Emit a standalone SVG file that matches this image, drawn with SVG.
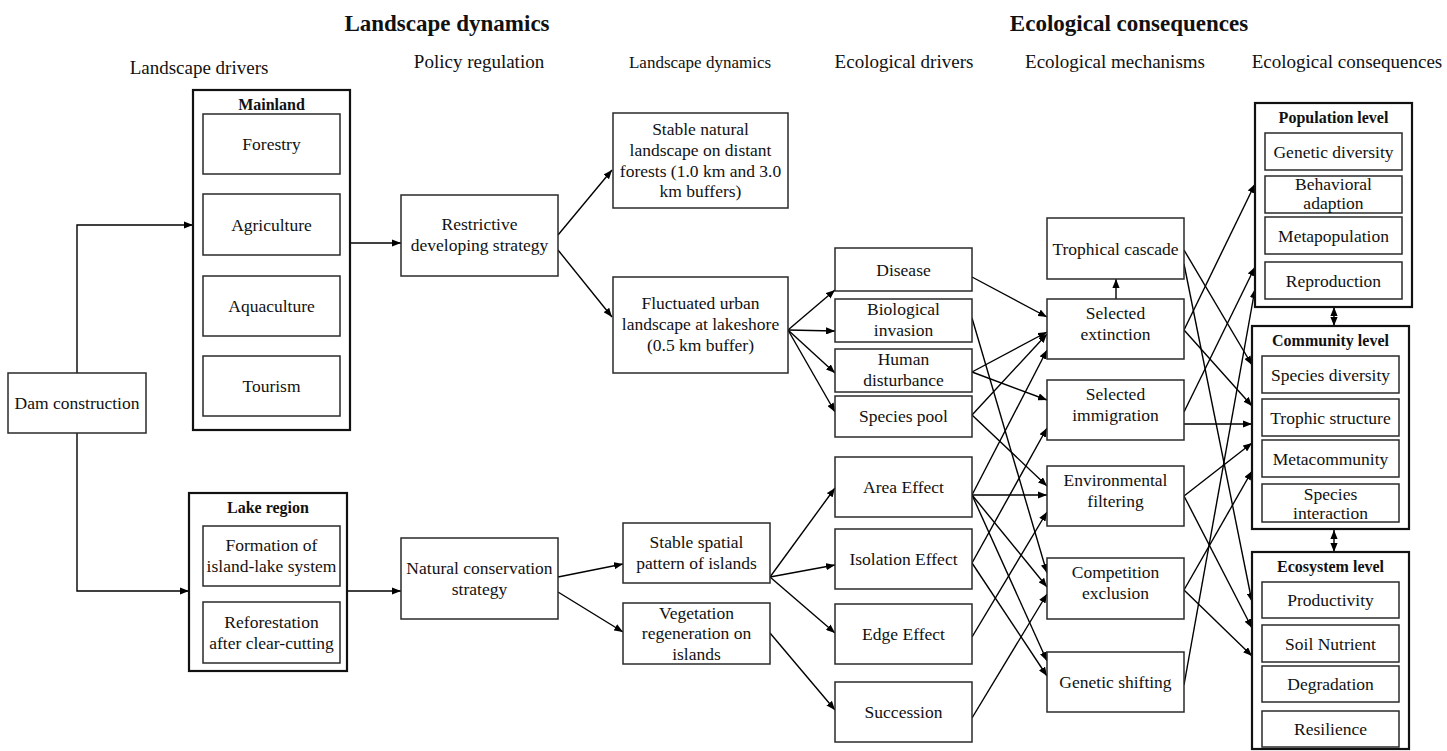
<svg xmlns="http://www.w3.org/2000/svg" width="1447" height="751" viewBox="0 0 1447 751">
<style>
text{font-family:"Liberation Serif","Times New Roman",serif;fill:#111;text-anchor:middle}
.t{font-size:17.5px}
.h{font-size:19px}
.h2{font-size:17px}
.title{font-size:23px;font-weight:bold}
.lbl{font-size:16px;font-weight:bold}
.box{fill:#fff;stroke:#2a2a2a;stroke-width:1.5}
.outer{fill:#fff;stroke:#111;stroke-width:2.2}
.c{fill:none;stroke:#000;stroke-width:1.4;marker-end:url(#arr)}
.d{fill:none;stroke:#000;stroke-width:1.4;marker-end:url(#arr);marker-start:url(#arr)}
</style>
<defs>
<marker id="arr" viewBox="0 0 10 8" markerWidth="9" markerHeight="7.2" refX="10" refY="4" orient="auto-start-reverse" markerUnits="userSpaceOnUse">
<path d="M0,0 L10,4 L0,8 z" fill="#000"/>
</marker>
</defs>
<rect width="1447" height="751" fill="#fff"/>

<g id="titles">
<text class="title" x="447" y="31">Landscape dynamics</text>
<text class="title" x="1129" y="31">Ecological consequences</text>
<text class="h" x="199" y="74">Landscape drivers</text>
<text class="h" x="479" y="68">Policy regulation</text>
<text class="h2" x="700" y="68">Landscape dynamics</text>
<text class="h" x="904" y="68">Ecological drivers</text>
<text class="h" x="1115" y="68">Ecological mechanisms</text>
<text class="h" x="1347" y="68">Ecological consequences</text>
</g>

<g id="connectors">
<polyline class="c" points="77,373 77,225 193,225"/>
<polyline class="c" points="77,433 77,591 189,591"/>
<line class="c" x1="350" y1="243" x2="401" y2="243"/>
<line class="c" x1="347" y1="591" x2="401" y2="591"/>
<line class="c" x1="558" y1="235" x2="612" y2="170"/>
<line class="c" x1="558" y1="250" x2="612" y2="317"/>
<line class="c" x1="558" y1="577" x2="623" y2="564"/>
<line class="c" x1="558" y1="592" x2="623" y2="632"/>
<line class="c" x1="788" y1="330" x2="835" y2="290"/>
<line class="c" x1="788" y1="330" x2="835" y2="331"/>
<line class="c" x1="788" y1="330" x2="835" y2="373"/>
<line class="c" x1="788" y1="330" x2="835" y2="412"/>
<line class="c" x1="770" y1="577" x2="835" y2="488"/>
<line class="c" x1="770" y1="577" x2="835" y2="565"/>
<line class="c" x1="770" y1="577" x2="835" y2="633"/>
<line class="c" x1="770" y1="633" x2="835" y2="710"/>
<line class="c" x1="972" y1="277" x2="1047" y2="317"/>
<line class="c" x1="972" y1="318" x2="1047" y2="573"/>
<line class="c" x1="972" y1="372" x2="1047" y2="332"/>
<line class="c" x1="972" y1="372" x2="1047" y2="400"/>
<line class="c" x1="972" y1="415" x2="1047" y2="334"/>
<line class="c" x1="972" y1="415" x2="1047" y2="486"/>
<line class="c" x1="972" y1="495" x2="1047" y2="350"/>
<line class="c" x1="972" y1="495" x2="1047" y2="495"/>
<line class="c" x1="972" y1="495" x2="1047" y2="587"/>
<line class="c" x1="972" y1="495" x2="1047" y2="661"/>
<line class="c" x1="972" y1="563" x2="1047" y2="428"/>
<line class="c" x1="972" y1="563" x2="1047" y2="676"/>
<line class="c" x1="972" y1="637" x2="1047" y2="512"/>
<line class="c" x1="972" y1="718" x2="1047" y2="594"/>
<line class="c" x1="1116" y1="299" x2="1116" y2="279"/>
<line class="c" x1="1184" y1="250" x2="1252" y2="365"/>
<line class="c" x1="1184" y1="264" x2="1252" y2="602"/>
<line class="c" x1="1184" y1="330" x2="1255" y2="184"/>
<line class="c" x1="1184" y1="330" x2="1252" y2="406"/>
<line class="c" x1="1184" y1="412" x2="1255" y2="267"/>
<line class="c" x1="1184" y1="424" x2="1252" y2="424"/>
<line class="c" x1="1184" y1="496" x2="1252" y2="443"/>
<line class="c" x1="1184" y1="496" x2="1252" y2="628"/>
<line class="c" x1="1184" y1="590" x2="1252" y2="471"/>
<line class="c" x1="1184" y1="590" x2="1252" y2="656"/>
<line class="c" x1="1184" y1="685" x2="1255" y2="289"/>
<line class="d" x1="1334" y1="307" x2="1334" y2="326"/>
<line class="d" x1="1334" y1="530" x2="1334" y2="552"/>
</g>

<g id="dam"><rect class="box" x="8" y="373" width="138" height="60"/><text class="t" x="77" y="409">Dam construction</text></g>

<g id="mainland">
<rect class="outer" x="193" y="90" width="157" height="340"/>
<text class="lbl" x="271.5" y="110">Mainland</text>
<g id="forestry"><rect class="box" x="203" y="114" width="137" height="60"/><text class="t" x="271.5" y="150">Forestry</text></g>
<g id="agriculture"><rect class="box" x="203" y="194" width="137" height="61"/><text class="t" x="271.5" y="230.5">Agriculture</text></g>
<g id="aquaculture"><rect class="box" x="203" y="276" width="137" height="60"/><text class="t" x="271.5" y="312">Aquaculture</text></g>
<g id="tourism"><rect class="box" x="203" y="356" width="137" height="60"/><text class="t" x="271.5" y="392">Tourism</text></g>
</g>

<g id="lake">
<rect class="outer" x="189" y="493" width="158" height="178"/>
<text class="lbl" x="268" y="513">Lake region</text>
<g id="formation"><rect class="box" x="203" y="526" width="137" height="60"/><text class="t" x="271.5" y="551">Formation of</text><text class="t" x="271.5" y="572">island-lake system</text></g>
<g id="reforestation"><rect class="box" x="203" y="602" width="137" height="61"/><text class="t" x="271.5" y="627.5">Reforestation</text><text class="t" x="271.5" y="648.5">after clear-cutting</text></g>
</g>

<g id="restrictive"><rect class="box" x="401" y="195" width="157" height="81"/><text class="t" x="479.5" y="230">Restrictive</text><text class="t" x="479.5" y="251">developing strategy</text></g>
<g id="natural"><rect class="box" x="401" y="538" width="157" height="81"/><text class="t" x="479.5" y="574">Natural conservation</text><text class="t" x="479.5" y="595">strategy</text></g>

<g id="stable-natural"><rect class="box" x="613" y="113" width="175" height="95"/>
<text class="t" x="700.5" y="135">Stable natural</text><text class="t" x="700.5" y="156">landscape on distant</text><text class="t" x="700.5" y="176.5">forests (1.0 km and 3.0</text><text class="t" x="700.5" y="197">km buffers)</text></g>
<g id="fluctuated"><rect class="box" x="613" y="277" width="175" height="96"/>
<text class="t" x="700.5" y="309">Fluctuated urban</text><text class="t" x="700.5" y="330">landscape at lakeshore</text><text class="t" x="700.5" y="350.5">(0.5 km buffer)</text></g>
<g id="stable-spatial"><rect class="box" x="623" y="523" width="147" height="60"/>
<text class="t" x="696.5" y="548">Stable spatial</text><text class="t" x="696.5" y="568.5">pattern of islands</text></g>
<g id="vegetation"><rect class="box" x="623" y="603" width="147" height="61"/>
<text class="t" x="696.5" y="618.5">Vegetation</text><text class="t" x="696.5" y="639">regeneration on</text><text class="t" x="696.5" y="659.5">islands</text></g>

<g id="disease"><rect class="box" x="835" y="248" width="137" height="43"/><text class="t" x="903.5" y="275.5">Disease</text></g>
<g id="bio"><rect class="box" x="835" y="299" width="137" height="43"/><text class="t" x="903.5" y="315">Biological</text><text class="t" x="903.5" y="336">invasion</text></g>
<g id="human"><rect class="box" x="835" y="349" width="137" height="43"/><text class="t" x="903.5" y="365">Human</text><text class="t" x="903.5" y="386">disturbance</text></g>
<g id="pool"><rect class="box" x="835" y="396" width="137" height="41"/><text class="t" x="903.5" y="422">Species pool</text></g>
<g id="area"><rect class="box" x="835" y="457" width="137" height="60"/><text class="t" x="903.5" y="493">Area Effect</text></g>
<g id="isolation"><rect class="box" x="835" y="529" width="137" height="60"/><text class="t" x="903.5" y="565">Isolation Effect</text></g>
<g id="edge"><rect class="box" x="835" y="604" width="137" height="60"/><text class="t" x="903.5" y="640">Edge Effect</text></g>
<g id="succession"><rect class="box" x="835" y="682" width="137" height="60"/><text class="t" x="903.5" y="718">Succession</text></g>

<g id="trophical"><rect class="box" x="1047" y="218" width="137" height="61"/><text class="t" x="1115.5" y="254.5">Trophical cascade</text></g>
<g id="extinction"><rect class="box" x="1047" y="299" width="137" height="60"/><text class="t" x="1115.5" y="318.5">Selected</text><text class="t" x="1115.5" y="339.5">extinction</text></g>
<g id="immigration"><rect class="box" x="1047" y="380" width="137" height="60"/><text class="t" x="1115.5" y="399.5">Selected</text><text class="t" x="1115.5" y="420.5">immigration</text></g>
<g id="filtering"><rect class="box" x="1047" y="466" width="137" height="60"/><text class="t" x="1115.5" y="485.5">Environmental</text><text class="t" x="1115.5" y="506.5">filtering</text></g>
<g id="competition"><rect class="box" x="1047" y="558" width="137" height="61"/><text class="t" x="1115.5" y="578">Competition</text><text class="t" x="1115.5" y="599">exclusion</text></g>
<g id="genetic-shifting"><rect class="box" x="1047" y="652" width="137" height="60"/><text class="t" x="1115.5" y="688">Genetic shifting</text></g>

<g id="population">
<rect class="outer" x="1255" y="103" width="157" height="204"/>
<text class="lbl" x="1333.5" y="123">Population level</text>
<g id="gen-div"><rect class="box" x="1265" y="133" width="137" height="37"/><text class="t" x="1333.5" y="157.5">Genetic diversity</text></g>
<g id="behav"><rect class="box" x="1265" y="176" width="137" height="37"/><text class="t" x="1333.5" y="190">Behavioral</text><text class="t" x="1333.5" y="209">adaption</text></g>
<g id="metapop"><rect class="box" x="1265" y="217" width="137" height="37"/><text class="t" x="1333.5" y="241.5">Metapopulation</text></g>
<g id="repro"><rect class="box" x="1265" y="262" width="137" height="37"/><text class="t" x="1333.5" y="286.5">Reproduction</text></g>
</g>

<g id="community">
<rect class="outer" x="1252" y="326" width="157" height="203"/>
<text class="lbl" x="1330.5" y="346">Community level</text>
<g id="sp-div"><rect class="box" x="1262" y="356" width="137" height="37"/><text class="t" x="1330.5" y="380.5">Species diversity</text></g>
<g id="trophic"><rect class="box" x="1262" y="399" width="137" height="37"/><text class="t" x="1330.5" y="423.5">Trophic structure</text></g>
<g id="metacom"><rect class="box" x="1262" y="440" width="137" height="37"/><text class="t" x="1330.5" y="464.5">Metacommunity</text></g>
<g id="sp-int"><rect class="box" x="1262" y="484" width="137" height="38"/><text class="t" x="1330.5" y="499.5">Species</text><text class="t" x="1330.5" y="518.5">interaction</text></g>
</g>

<g id="ecosystem">
<rect class="outer" x="1252" y="552" width="157" height="197"/>
<text class="lbl" x="1330.5" y="572">Ecosystem level</text>
<g id="prod"><rect class="box" x="1262" y="582" width="137" height="36"/><text class="t" x="1330.5" y="606">Productivity</text></g>
<g id="soil"><rect class="box" x="1262" y="625" width="137" height="37"/><text class="t" x="1330.5" y="649.5">Soil Nutrient</text></g>
<g id="degr"><rect class="box" x="1262" y="666" width="137" height="36"/><text class="t" x="1330.5" y="690">Degradation</text></g>
<g id="resil"><rect class="box" x="1262" y="711" width="137" height="36"/><text class="t" x="1330.5" y="735">Resilience</text></g>
</g>
</svg>
